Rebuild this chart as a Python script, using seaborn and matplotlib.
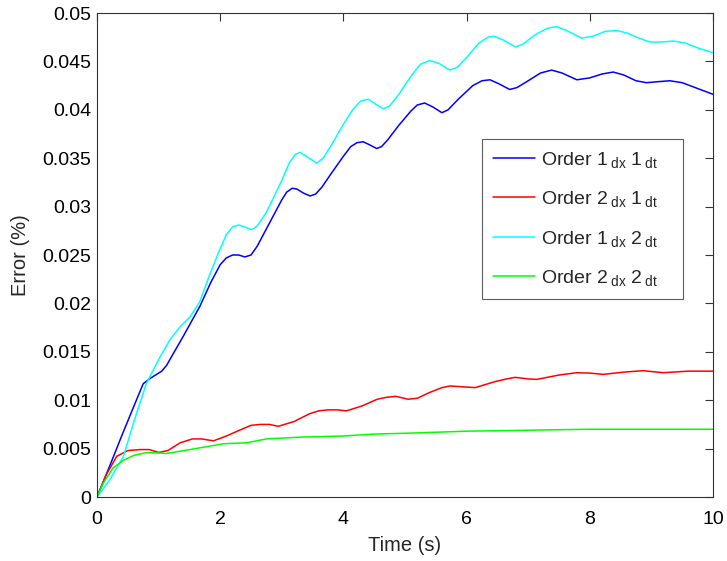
import matplotlib
matplotlib.use("Agg")
import matplotlib.pyplot as plt
import seaborn as sns
import pandas as pd

# ---- data ----
t_o1dx_1dt = [0, 0.2, 0.4, 0.6, 0.75, 0.85, 0.95, 1.05, 1.13, 1.21, 1.4, 1.67, 1.85, 2.0, 2.1,
              2.2, 2.3, 2.4, 2.5, 2.6, 2.8, 3.0, 3.08, 3.17, 3.25, 3.35, 3.46, 3.55, 3.65, 3.8,
              4.0, 4.12, 4.22, 4.32, 4.42, 4.54, 4.62, 4.72, 4.9, 5.1, 5.2, 5.32, 5.45, 5.6,
              5.7, 5.85, 6.1, 6.25, 6.38, 6.52, 6.7, 6.82, 7.0, 7.2, 7.38, 7.55, 7.79, 8.0,
              8.2, 8.38, 8.55, 8.75, 8.92, 9.1, 9.3, 9.5, 9.75, 10]
e_o1dx_1dt = [0, 0.0031, 0.0063, 0.0094, 0.0117, 0.0122, 0.0126, 0.0130, 0.0136, 0.0145, 0.0166,
              0.0197, 0.0222, 0.0240, 0.0247, 0.0250, 0.0250, 0.0248, 0.0250, 0.0259, 0.0283,
              0.0307, 0.0315, 0.0319, 0.0318, 0.0314, 0.0311, 0.0313, 0.0320, 0.0334, 0.0352,
              0.0362, 0.0366, 0.0367, 0.0364, 0.0360, 0.0362, 0.0369, 0.0384, 0.0399, 0.0405,
              0.0407, 0.0403, 0.0397, 0.0400, 0.0410, 0.0425, 0.0430, 0.0431, 0.0427, 0.0421,
              0.0423, 0.0430, 0.0438, 0.0441, 0.0438, 0.0431, 0.0433, 0.0437, 0.0439, 0.0436,
              0.0430, 0.0428, 0.0429, 0.0430, 0.0428, 0.0422, 0.0416]

t_o2dx_1dt = [0, 0.15, 0.32, 0.5, 0.7, 0.85, 1.0, 1.15, 1.35, 1.55, 1.7, 1.89, 2.1, 2.35, 2.5,
              2.65, 2.8, 2.94, 3.2, 3.45, 3.6, 3.75, 3.9, 4.05, 4.3, 4.55, 4.7, 4.85, 5.05, 5.2,
              5.4, 5.6, 5.73, 5.9, 6.14, 6.45, 6.65, 6.79, 7.0, 7.14, 7.5, 7.79, 8.0, 8.22, 8.55,
              8.87, 9.19, 9.6, 10]
e_o2dx_1dt = [0, 0.0023, 0.0042, 0.0048, 0.0049, 0.0049, 0.0046, 0.0048, 0.0056, 0.0060, 0.0060,
              0.0058, 0.0063, 0.0070, 0.0074, 0.0075, 0.0075, 0.0073, 0.0078, 0.0086, 0.0089,
              0.0090, 0.0090, 0.0089, 0.0094, 0.0101, 0.0103, 0.0104, 0.0101, 0.0102, 0.0108,
              0.0113, 0.01147, 0.0114, 0.0113, 0.0119, 0.0122, 0.01236, 0.0122, 0.01215,
              0.0126, 0.01284, 0.0128, 0.01267, 0.0129, 0.01305, 0.01284, 0.0130, 0.0130]

t_o1dx_2dt = [0, 0.2, 0.43, 0.6, 0.8, 1.0, 1.18, 1.35, 1.51, 1.67, 1.82, 1.97, 2.1, 2.2, 2.3,
              2.4, 2.51, 2.6, 2.75, 3.0, 3.12, 3.22, 3.3, 3.42, 3.57, 3.67, 3.8, 4.0, 4.15, 4.28,
              4.4, 4.52, 4.65, 4.75, 4.9, 5.1, 5.25, 5.4, 5.55, 5.73, 5.85, 6.0, 6.2, 6.35, 6.45,
              6.6, 6.79, 6.92, 7.1, 7.3, 7.46, 7.62, 7.87, 8.05, 8.25, 8.44, 8.62, 8.8, 8.98,
              9.15, 9.36, 9.55, 9.75, 10]
e_o1dx_2dt = [0, 0.0017, 0.0042, 0.0078, 0.0117, 0.0142, 0.0162, 0.0176, 0.0186, 0.0202, 0.0228,
              0.0252, 0.0271, 0.0279, 0.0281, 0.0279, 0.0276, 0.0280, 0.0294, 0.0327, 0.0345,
              0.0354, 0.0356, 0.0351, 0.0345, 0.0350, 0.0363, 0.0385, 0.0400, 0.0409, 0.0411,
              0.0406, 0.0401, 0.0404, 0.0416, 0.0435, 0.0447, 0.0451, 0.0448, 0.0441, 0.0444,
              0.0454, 0.0469, 0.0475, 0.0476, 0.0472, 0.0465, 0.0468, 0.0477, 0.0484, 0.0486,
              0.0482, 0.0474, 0.0476, 0.0481, 0.0482, 0.0479, 0.0474, 0.0470, 0.0470, 0.0471,
              0.0469, 0.0464, 0.0459]

t_o2dx_2dt = [0, 0.1, 0.26, 0.43, 0.6, 0.81, 1.13, 1.51, 2.05, 2.43, 2.75, 3.35, 4.0, 4.5, 5.08,
              6.0, 7.0, 8.0, 9.0, 10]
e_o2dx_2dt = [0, 0.0014, 0.0030, 0.0038, 0.0043, 0.0046, 0.0045, 0.0049, 0.0055, 0.0056, 0.0060,
              0.0062, 0.0063, 0.0065, 0.0066, 0.0068, 0.0069, 0.0070, 0.0070, 0.0070]

labels = ["Order 1$_{\\;\\mathrm{dx}}$ 1$_{\\;\\mathrm{dt}}$",
          "Order 2$_{\\;\\mathrm{dx}}$ 1$_{\\;\\mathrm{dt}}$",
          "Order 1$_{\\;\\mathrm{dx}}$ 2$_{\\;\\mathrm{dt}}$",
          "Order 2$_{\\;\\mathrm{dx}}$ 2$_{\\;\\mathrm{dt}}$"]
colors = ["#0000ff", "#ff0000", "#00ffff", "#00ff00"]
x_ticks = [0, 2, 4, 6, 8, 10]
y_ticks = [0, 0.005, 0.01, 0.015, 0.02, 0.025, 0.03, 0.035, 0.04, 0.045, 0.05]
y_ticklabels = ["0", "0.005", "0.01", "0.015", "0.02", "0.025", "0.03", "0.035", "0.04", "0.045", "0.05"]

series = [(t_o1dx_1dt, e_o1dx_1dt), (t_o2dx_1dt, e_o2dx_1dt),
          (t_o1dx_2dt, e_o1dx_2dt), (t_o2dx_2dt, e_o2dx_2dt)]
frames = []
for lab, (t, e) in zip(labels, series):
    frames.append(pd.DataFrame({"Time": t, "Error": e, "Series": lab}))
df = pd.concat(frames, ignore_index=True)

sns.set_style("white")
plt.rcParams["font.family"] = ["Liberation Sans", "DejaVu Sans"]
plt.rcParams["mathtext.fontset"] = "custom"
plt.rcParams["mathtext.rm"] = "Liberation Sans"
plt.rcParams["mathtext.it"] = "Liberation Sans:italic"

fig = plt.figure(figsize=(7.27, 5.61), dpi=100)
ax = fig.add_axes([97 / 727, 64 / 561, 616 / 727, 484 / 561])

sns.lineplot(data=df, x="Time", y="Error", hue="Series", hue_order=labels,
             palette=colors, linewidth=1.1, ax=ax, sort=False, estimator=None)

ax.set_xlim(0, 10)
ax.set_ylim(0, 0.05)
ax.set_xticks(x_ticks)
ax.set_xticklabels([str(v) for v in x_ticks])
ax.set_yticks(y_ticks)
ax.set_yticklabels(y_ticklabels)
ax.tick_params(direction="in", length=6, width=0.8, top=True, right=True,
               labelsize=14, colors="#333333", labelcolor="black")
ax.tick_params(axis="x", pad=10)
ax.tick_params(axis="y", pad=4)
for s in ax.spines.values():
    s.set_visible(True)
    s.set_color("#333333")
    s.set_linewidth(0.8)
ax.set_xlabel("Time (s)", fontsize=14.5, labelpad=6)
ax.set_ylabel("Error (%)", fontsize=14.5, labelpad=9)

lx0 = (482 - 97) / 616
lw = (683 - 482) / 616
ltop = (497 - 139) / 484
lh = (301 - 139) / 484
leg = ax.legend(loc="upper left", bbox_to_anchor=(lx0, ltop - lh, lw, lh), mode="expand",
                fontsize=14, frameon=True, fancybox=False, handlelength=2.2,
                handletextpad=0.3, borderpad=0.55, labelspacing=1.0,
                borderaxespad=0)
leg.get_frame().set_edgecolor("#333333")
leg.get_frame().set_linewidth(0.8)

fig.savefig("out.png", dpi=100, facecolor="white")
